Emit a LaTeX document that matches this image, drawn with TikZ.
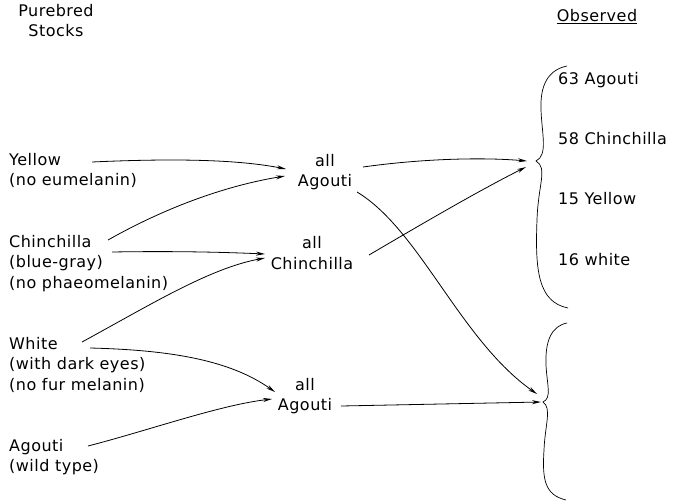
\documentclass[tikz,border=0pt]{standalone}
\usepackage{fontspec}
\setmainfont{DejaVu Sans}[LetterSpace=3]
\usetikzlibrary{arrows.meta}
\begin{document}
\begin{tikzpicture}[x=1pt,y=-1pt,
  lbl/.style={font=\fontsize{16}{20.5}\selectfont, inner sep=0pt, align=left, anchor=north west},
  mid/.style={font=\fontsize{16}{20.5}\selectfont, inner sep=0pt, align=center},
  con/.style={line width=0.8pt, -{Stealth[length=9pt,width=4pt]}},
  brc/.style={line width=0.7pt}]
\useasboundingbox (0,0) rectangle (683,501);
\node[mid, anchor=north] (head) at (56,4) {Purebred\\Stocks};
\node[mid, anchor=north] (obs) at (597,9) {\underline{Observed}};
% left column
\node[lbl] (yel) at (9,153) {Yellow\\(no eumelanin)};
\node[lbl] (chi) at (9,235) {Chinchilla\\(blue-gray)\\(no phaeomelanin)};
\node[lbl] (whi) at (9,337) {White\\(with dark eyes)\\(no fur melanin)};
\node[lbl] (ago) at (9,439) {Agouti\\(wild type)};
% middle
\node[mid] (m1) at (325,172) {all\\Agouti};
\node[mid] (m2) at (312,253) {all\\Chinchilla};
\node[mid] (m3) at (305,396) {all\\Agouti};
% right
\node[lbl] (r1) at (558,72) {63 Agouti};
\node[lbl] (r2) at (558,132) {58 Chinchilla};
\node[lbl] (r3) at (558,192) {15 Yellow};
\node[lbl] (r4) at (558,253) {16 white};
% brace tips
\coordinate (t1) at (527,161);
\coordinate (t1b) at (526,167);
\coordinate (t2) at (537,394);
\coordinate (t2b) at (541,402);
% braces
\draw[brc] (567,66) .. controls (548,70) and (540,85) .. (541,110)
  .. controls (542,135) and (548,155) .. (536,161)
  .. controls (548,168) and (538,185) .. (537,220)
  .. controls (535,270) and (538,302) .. (568,308);
\draw[brc] (567,323) .. controls (552,326) and (545,340) .. (546,365)
  .. controls (547,385) and (552,398) .. (543,402)
  .. controls (552,408) and (545,425) .. (544,450)
  .. controls (542,480) and (545,495) .. (566,500);
% connectors
\coordinate (a1) at (92,162);
\draw[con] (a1) .. controls (180,158) and (240,160) .. (286,169);
\coordinate (a2) at (108,240);
\draw[con] (a2) .. controls (170,205) and (230,185) .. (285,176);
\coordinate (a3) at (112,252);
\draw[con] (a3) .. controls (170,251) and (220,252) .. (265,254);
\coordinate (a4) at (82,342);
\draw[con] (a4) .. controls (150,305) and (210,268) .. (265,258);
\coordinate (a5) at (90,348);
\draw[con] (a5) .. controls (170,350) and (230,360) .. (275,392);
\coordinate (a6) at (88,446);
\draw[con] (a6) .. controls (150,430) and (220,405) .. (272,399);
\coordinate (b1) at (363,167);
\draw[con] (b1) .. controls (420,159) and (480,157) .. (t1);
\coordinate (b2) at (357,192);
\draw[con] (b2) .. controls (420,230) and (460,340) .. (t2);
\coordinate (b3) at (369,255);
\draw[con] (b3) .. controls (420,225) and (480,190) .. (t1b);
\coordinate (b4) at (341,406);
\draw[con] (b4) -- (t2b);
\end{tikzpicture}
\end{document}
